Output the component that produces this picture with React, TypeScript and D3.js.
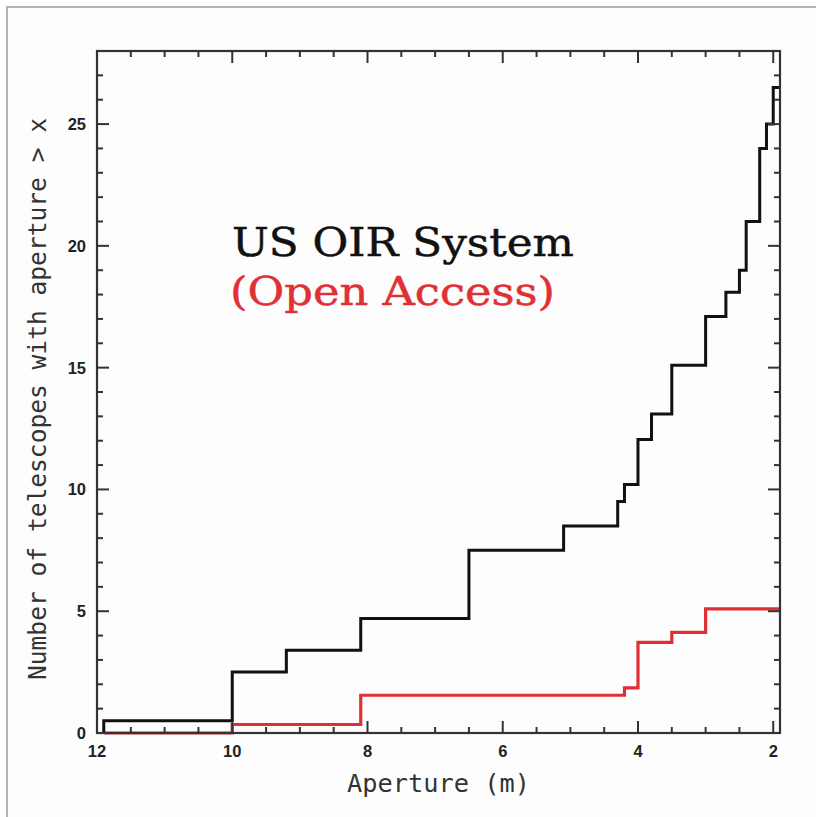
import React from "react";
import * as d3 from "d3";

// Step data: aperture (m) where the cumulative count changes, and the count after it
const usApertures = [11.9, 11.9, 10.0, 9.2, 8.1, 6.5, 5.1, 4.3, 4.2, 4.0, 3.8, 3.5, 3.0, 2.7, 2.5, 2.4, 2.2, 2.1, 2.0, 1.9];
const usCounts = [0, 0.5, 2.5, 3.4, 4.7, 7.5, 8.5, 9.5, 10.2, 12.05, 13.1, 15.1, 17.1, 18.1, 19.0, 21.0, 24.0, 25.0, 26.5, 26.5];

const openApertures = [11.9, 10.0, 8.1, 4.2, 4.0, 3.5, 3.0, 1.9];
const openCounts = [0, 0.35, 1.55, 1.85, 3.72, 4.13, 5.1, 5.1];

const xMajorTicks = [12, 10, 8, 6, 4, 2];
const xMinorTicks = d3.range(2, 12.01, 0.5);
const yMajorTicks = [0, 5, 10, 15, 20, 25];
const yMinorTicks = d3.range(0, 28.01, 1);

const W = 816;
const H = 817;
const L = 97, R = 780, T = 51, B = 733;

export default function App() {
  const x = d3.scaleLinear().domain([12, 1.9]).range([L, R]);
  const y = d3.scaleLinear().domain([0, 28]).range([B, T]);

  const line = d3
    .line<[number, number]>()
    .x((d) => x(d[0]))
    .y((d) => y(d[1]))
    .curve(d3.curveStepAfter);

  const usPts: [number, number][] = usApertures.map((a, i) => [a, usCounts[i]]);
  const openPts: [number, number][] = openApertures.map((a, i) => [a, openCounts[i]]);

  const axisColor = "#333";
  const tickFont = "'Liberation Sans', Arial, sans-serif";
  const titleFont = "'DejaVu Sans Mono', monospace";
  const annFont = "'DejaVu Serif', serif";

  return (
    <svg
      width={W}
      height={H}
      style={{ position: "absolute", left: 0, top: 0, display: "block", background: "#fff" }}
    >
      <rect x={7} y={7} width={W + 10} height={H + 10} fill="#fdfdfd" stroke="#b8b0b0" strokeWidth={2} />

      {/* series */}
      <path d={line(openPts) || ""} fill="none" stroke="#e03035" strokeWidth={3.2} />
      <path d={line(usPts) || ""} fill="none" stroke="#111" strokeWidth={3} />

      {/* frame */}
      <rect x={L} y={T} width={R - L} height={B - T} fill="none" stroke={axisColor} strokeWidth={2.2} />

      {/* x ticks bottom & top */}
      {xMinorTicks.map((v) => {
        const major = xMajorTicks.includes(v);
        const len = major ? 12 : 6;
        return (
          <g key={"xt" + v} stroke={axisColor} strokeWidth={2}>
            <line x1={x(v)} x2={x(v)} y1={B} y2={B - len} />
            <line x1={x(v)} x2={x(v)} y1={T} y2={T + len} />
          </g>
        );
      })}
      {/* y ticks left & right */}
      {yMinorTicks.map((v) => {
        const major = yMajorTicks.includes(v);
        const len = major ? 12 : 6;
        return (
          <g key={"yt" + v} stroke={axisColor} strokeWidth={2}>
            <line x1={L} x2={L + len} y1={y(v)} y2={y(v)} />
            <line x1={R} x2={R - len} y1={y(v)} y2={y(v)} />
          </g>
        );
      })}

      {/* tick labels */}
      {xMajorTicks.map((v) => (
        <text
          key={"xl" + v}
          x={x(v)}
          y={B + 24}
          textAnchor="middle"
          fontFamily={tickFont}
          fontWeight="bold"
          fontSize={16.5}
          fill="#222"
        >
          {v}
        </text>
      ))}
      {yMajorTicks.map((v) => (
        <text
          key={"yl" + v}
          x={L - 11}
          y={y(v) + 6}
          textAnchor="end"
          fontFamily={tickFont}
          fontWeight="bold"
          fontSize={16.5}
          fill="#222"
        >
          {v}
        </text>
      ))}

      {/* axis titles */}
      <text
        x={(L + R) / 2}
        y={792}
        textAnchor="middle"
        fontFamily={titleFont}
        fontSize={25}
        fill="#333"
        textLength={183}
        lengthAdjust="spacingAndGlyphs"
      >
        Aperture (m)
      </text>
      <text
        transform={`translate(46,399) rotate(-90)`}
        textAnchor="middle"
        fontFamily={titleFont}
        fontSize={24.5}
        fill="#333"
        textLength={562}
        lengthAdjust="spacingAndGlyphs"
      >
        Number of telescopes with aperture &gt; x
      </text>

      {/* annotations */}
      <text
        x={232}
        y={256}
        fontFamily={annFont}
        fontSize={40}
        fill="#111"
        stroke="#111"
        strokeWidth={0.5}
        textLength={342}
        lengthAdjust="spacingAndGlyphs"
      >
        US OIR System
      </text>
      <text
        x={230}
        y={305}
        fontFamily={annFont}
        fontSize={40}
        fill="#e03035"
        stroke="#e03035"
        strokeWidth={0.5}
        textLength={325}
        lengthAdjust="spacingAndGlyphs"
      >
        (Open Access)
      </text>
    </svg>
  );
}
